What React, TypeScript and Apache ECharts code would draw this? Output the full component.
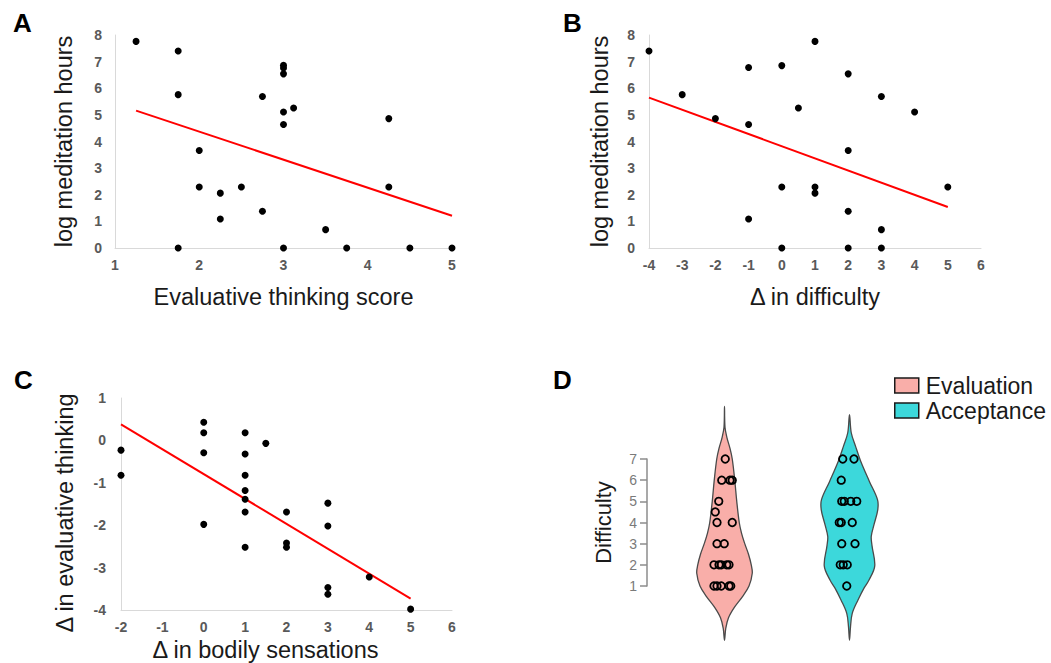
import React, { useEffect, useRef } from "react";
import * as echarts from "echarts";

// ---------- Panel A: evaluative thinking score vs log meditation hours ----------
const aPoints: number[][] = [
  [1.25, 7.76], [1.75, 7.4], [1.75, 5.76], [2, 3.66], [2, 2.29], [2.25, 2.06],
  [2.25, 1.09], [2.5, 2.29], [2.75, 5.69], [2.75, 1.38], [3, 6.86], [3, 6.76],
  [3, 6.54], [3, 5.11], [3, 4.64], [3.12, 5.26], [4.25, 4.86], [4.25, 2.29],
  [3.5, 0.69], [1.75, 0], [3, 0], [3.75, 0], [4.5, 0], [5, 0],
];
const aTrend: number[][] = [[1.25, 5.16], [5, 1.21]];

// ---------- Panel B: change in difficulty vs log meditation hours ----------
const bPoints: number[][] = [
  [-4, 7.4], [-3, 5.76], [-2, 4.86], [-1, 6.78], [-1, 4.64], [-1, 1.09],
  [0, 6.85], [0, 2.29], [0, 0], [0.5, 5.26], [1, 7.76], [1, 2.29], [1, 2.06],
  [2, 6.54], [2, 3.66], [2, 1.38], [2, 0], [3, 5.69], [3, 0.69], [3, 0],
  [4, 5.11], [5, 2.29],
];
const bTrend: number[][] = [[-4, 5.65], [5, 1.54]];

// ---------- Panel C: change in bodily sensations vs change in evaluative thinking ----------
const cPoints: number[][] = [
  [-2, -0.23], [-2, -0.82], [0, 0.43], [0, 0.18], [0, -0.29], [0, -1.98],
  [1, 0.18], [1, -0.32], [1, -0.82], [1, -1.18], [1, -1.39], [1, -1.69],
  [1, -2.52], [1.5, -0.07], [2, -1.69], [2, -2.42], [2, -2.52], [3, -1.48],
  [3, -2.02], [3, -3.47], [3, -3.63], [4, -3.22], [5, -3.98],
];
const cTrend: number[][] = [[-2, 0.38], [5, -3.73]];

// ---------- Panel D: difficulty by condition (violins + points) ----------
const groups = ["Evaluation", "Acceptance"];
const groupPos = [1, 2];
const evalY = [7, 6, 6, 6, 5, 4.5, 4, 4, 3, 3, 2, 2, 2, 2, 2, 1, 1, 1, 1, 1];
const evalX = [1.006, 0.978, 1.044, 1.062, 0.954, 0.926, 0.94, 1.062, 0.94, 0.998,
  0.916, 0.956, 0.974, 1.018, 1.036, 0.916, 0.94, 0.974, 1.036, 1.05];
const accY = [7, 7, 6, 5, 5, 5, 5, 4, 4, 4, 3, 3, 2, 2, 2, 1];
const accX = [1.946, 2.036, 1.934, 1.938, 1.958, 2.01, 2.058, 1.918, 1.934, 2.022,
  1.938, 2.044, 1.926, 1.95, 1.982, 1.978];
// violin outline: density half-widths (x-axis units) at difficulty levels
const evalViolinY = [-1.56, -1, -0.5, 0, 0.5, 1, 1.6, 2, 2.5, 3, 3.5, 4, 5, 6, 7, 7.5, 8, 8.5, 9.48];
const evalViolinW = [0, 0.01, 0.032, 0.08, 0.144, 0.196, 0.222, 0.214, 0.192, 0.162, 0.136, 0.118,
  0.098, 0.082, 0.062, 0.044, 0.02, 0.004, 0];
const accViolinY = [-1.56, -0.93, -0.29, 0.34, 0.9, 1.28, 1.95, 2.91, 3.34, 3.9, 4.6, 5.08, 5.93, 6.92, 7.61, 8.24, 9.1];
const accViolinW = [0, 0.008, 0.022, 0.068, 0.116, 0.156, 0.202, 0.18, 0.174, 0.196, 0.226, 0.224,
  0.16, 0.088, 0.048, 0.014, 0];

const FONT = "'Liberation Sans', Arial, Helvetica, sans-serif";
const TICK_COLOR = "#595959";
const AXIS_COLOR = "#d9d9d9";
const TITLE_COLOR = "#1a1a1a";
const EVAL_FILL = "#F9AEA9";
const ACC_FILL = "#3CD8DB";

function sciX(gridIndex: number, min: number, max: number, name: string, nameGap: number, padding?: number[]) {
  return {
    type: "value", gridIndex, min, max, interval: 1,
    axisLine: { show: true, onZero: false, lineStyle: { color: AXIS_COLOR, width: 1 } },
    axisTick: { show: false }, splitLine: { show: false },
    axisLabel: { color: TICK_COLOR, fontWeight: "bold", fontSize: 14, margin: 10, fontFamily: FONT },
    name, nameLocation: "middle", nameGap,
    nameTextStyle: { fontSize: 23.5, color: TITLE_COLOR, fontFamily: FONT, padding: padding || 0 },
  };
}
function sciY(gridIndex: number, min: number, max: number, name: string, nameGap: number, margin: number, padding?: number[]) {
  return {
    type: "value", gridIndex, min, max, interval: 1,
    axisLine: { show: true, onZero: false, lineStyle: { color: AXIS_COLOR, width: 1 } },
    axisTick: { show: false }, splitLine: { show: false },
    axisLabel: { color: TICK_COLOR, fontWeight: "bold", fontSize: 14, margin, fontFamily: FONT },
    name, nameLocation: "middle", nameGap,
    nameTextStyle: { fontSize: 23.5, color: TITLE_COLOR, fontFamily: FONT, padding: padding || 0 },
  };
}

function scatter(idx: number, data: number[][]) {
  return {
    type: "scatter", xAxisIndex: idx, yAxisIndex: idx, data, symbolSize: 7,
    itemStyle: { color: "#000", opacity: 1 }, silent: true, z: 3,
  };
}
function trend(idx: number, data: number[][]) {
  return {
    type: "line", xAxisIndex: idx, yAxisIndex: idx, data, showSymbol: false, symbol: "none",
    lineStyle: { color: "#ff0000", width: 2 }, silent: true, z: 2,
  };
}
function violin(name: string, pos: number, ys: number[], ws: number[], fill: string) {
  return {
    type: "custom", name, xAxisIndex: 3, yAxisIndex: 3, data: [[pos, 4]],
    encode: { x: 0, y: 1 }, clip: false, silent: true,
    itemStyle: { color: fill },
    renderItem: (_params: any, api: any) => {
      const xc = api.value(0);
      const pts: number[][] = [];
      for (let i = 0; i < ys.length; i++) pts.push(api.coord([xc + ws[i], ys[i]]));
      for (let i = ys.length - 2; i > 0; i--) pts.push(api.coord([xc - ws[i], ys[i]]));
      return {
        type: "polygon",
        shape: { points: pts, smooth: 0.35 },
        style: { fill, stroke: "#4a4a4a", lineWidth: 1.3 },
      };
    },
  };
}
function violinPoints(xs: number[], ys: number[]) {
  return {
    type: "scatter", xAxisIndex: 3, yAxisIndex: 3, silent: true,
    data: xs.map((x, i) => [x, ys[i]]), symbolSize: 7.5, z: 5,
    itemStyle: { color: "rgba(0,0,0,0)", borderColor: "#000", borderWidth: 1.8, opacity: 1 },
  };
}

function panelLabel(text: string, left: number, top: number) {
  return {
    type: "text", left, top,
    style: { text, fontSize: 26, fontWeight: "bold", fill: "#000", fontFamily: FONT },
  };
}

export default function App() {
  const ref = useRef<HTMLDivElement>(null);
  useEffect(() => {
    document.body.style.margin = "0";
    const chart = echarts.init(ref.current!, undefined, { renderer: "svg" });
    const option: any = {
      animation: false,
      backgroundColor: "#ffffff",
      textStyle: { fontFamily: FONT },
      grid: [
        { left: 115, top: 35, width: 337, height: 213, outerBoundsMode: "none" },
        { left: 649, top: 35, width: 332, height: 213, outerBoundsMode: "none" },
        { left: 121, top: 398, width: 331, height: 212, outerBoundsMode: "none" },
        { left: 647, top: 459, width: 280, height: 127, outerBoundsMode: "none" },
      ],
      xAxis: [
        sciX(0, 1, 5, "Evaluative thinking score", 37),
        sciX(1, -4, 6, "Δ in difficulty", 37),
        sciX(2, -2, 6, "Δ in bodily sensations", 28, [0, 42, 0, 0]),
        { type: "value", gridIndex: 3, min: 0.38, max: 2.62, show: false },
      ],
      yAxis: [
        sciY(0, 0, 8, "log meditation hours", 39, 13),
        sciY(1, 0, 8, "log meditation hours", 37, 14),
        sciY(2, -4, 1, "Δ in evaluative thinking", 44, 15, [0, 18, 0, 0]),
        {
          type: "value", gridIndex: 3, min: 1, max: 7, interval: 1,
          axisLine: { show: true, onZero: false, lineStyle: { color: "#8c8c8c", width: 1.5 } },
          axisTick: { show: true, length: 7, lineStyle: { color: "#8c8c8c", width: 1.5 } },
          splitLine: { show: false },
          axisLabel: { color: "#7a7a7a", fontSize: 14, margin: 10, fontFamily: FONT },
          name: "Difficulty", nameLocation: "middle", nameGap: 33,
          nameTextStyle: { fontSize: 22, color: TITLE_COLOR, fontFamily: FONT },
        },
      ],
      legend: {
        data: groups, orient: "vertical", left: 889, top: 369, icon: "rect",
        itemWidth: 24, itemHeight: 15, itemGap: 2, selectedMode: false,
        textStyle: { fontSize: 23, color: TITLE_COLOR, fontFamily: FONT, padding: [0, 0, 0, 2] },
        itemStyle: { borderColor: "#1a1a1a", borderWidth: 1.5 },
      },
      graphic: [
        panelLabel("A", 13, 10),
        panelLabel("B", 563, 10),
        panelLabel("C", 14, 367),
        panelLabel("D", 553, 367),
      ],
      series: [
        trend(0, aTrend), scatter(0, aPoints),
        trend(1, bTrend), scatter(1, bPoints),
        trend(2, cTrend), scatter(2, cPoints),
        violin(groups[0], groupPos[0], evalViolinY, evalViolinW, EVAL_FILL),
        violin(groups[1], groupPos[1], accViolinY, accViolinW, ACC_FILL),
        violinPoints(evalX, evalY),
        violinPoints(accX, accY),
      ],
    };
    chart.setOption(option);
    return () => chart.dispose();
  }, []);
  return (
    <div
      ref={ref}
      style={{ position: "fixed", left: 0, top: 0, width: 1051, height: 663, background: "#fff" }}
    />
  );
}
